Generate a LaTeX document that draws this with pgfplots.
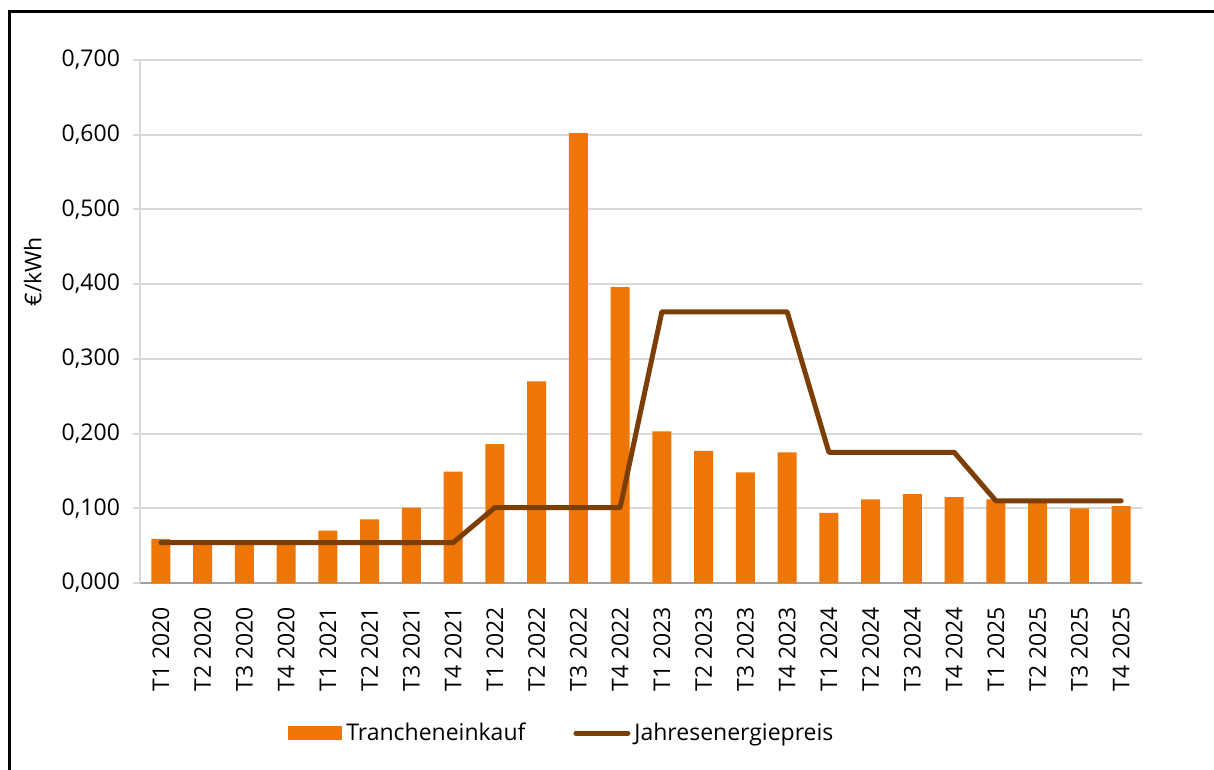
\documentclass[border=0pt]{standalone}
\usepackage{pgfplots}
\pgfplotsset{compat=1.18}
\usepackage{fontspec}
\setmainfont{Open Sans}
\definecolor{barorange}{RGB}{237,118,7}
\definecolor{linebrown}{RGB}{124,62,4}
\definecolor{gridgray}{RGB}{217,217,217}
\definecolor{axisgray}{RGB}{160,160,160}
\begin{document}
\begin{tikzpicture}
\begin{axis}[
  scale only axis,
  width=501pt, height=261.5pt,
  xmin=-0.5, xmax=23.5,
  ymin=0, ymax=0.7,
  ytick={0,0.1,...,0.7},
  xtick={0,...,23},
  xticklabels={T1 2020,T2 2020,T3 2020,T4 2020,T1 2021,T2 2021,T3 2021,T4 2021,T1 2022,T2 2022,T3 2022,T4 2022,T1 2023,T2 2023,T3 2023,T4 2023,T1 2024,T2 2024,T3 2024,T4 2024,T1 2025,T2 2025,T3 2025,T4 2025},
  font=\fontsize{11.5}{13}\selectfont,
  /pgf/number format/assume math mode=true,
  yticklabel style={/pgf/number format/.cd, fixed, fixed zerofill, precision=3, use comma, 1000 sep={}, /tikz/.cd, xshift=-3pt},
  xticklabel style={rotate=90, anchor=east, yshift=0pt, xshift=-5pt},
  axis x line*=bottom,
  axis y line*=left,
  x axis line style={draw=axisgray, line width=1pt, -},
  y axis line style={draw=gridgray, line width=1pt, -},
  ymajorgrids,
  grid style={draw=gridgray, line width=1pt},
  xtick style={draw=none},
  ytick style={draw=gridgray, line width=1pt},
  tick align=outside,
  major tick length=3.5pt,
  ylabel={€/kWh},
  ylabel style={at={(axis description cs:-0.107,0.595)}, anchor=center, font=\fontsize{11.5}{13}\selectfont},
  legend columns=-1,
  legend style={at={(axis description cs:0.422,-0.287)}, anchor=center, draw=none, fill=none,
    font=\fontsize{11.5}{13}\selectfont,
    /tikz/every even column/.append style={column sep=22pt}},
  legend cell align=left,
]
\addplot[ybar, bar width=9.4pt, fill=barorange, draw=none,
  legend image code/.code={\fill[barorange] (0pt,-3.5pt) rectangle (27pt,3.5pt);}]
  coordinates {(0,0.059) (1,0.055) (2,0.055) (3,0.055) (4,0.070) (5,0.085) (6,0.101) (7,0.149)
  (8,0.186) (9,0.270) (10,0.602) (11,0.396) (12,0.203) (13,0.177) (14,0.148) (15,0.175)
  (16,0.094) (17,0.112) (18,0.119) (19,0.115) (20,0.112) (21,0.107) (22,0.100) (23,0.103)};
\addlegendentry{Trancheneinkauf}
\addplot[draw=linebrown, line width=2.5pt, line cap=round, line join=round, mark=none,
  legend image code/.code={\draw[linebrown, line width=2.5pt, line cap=round] (1pt,0pt) -- (27pt,0pt);}]
  coordinates {(0,0.054) (1,0.054) (2,0.054) (3,0.054) (4,0.054) (5,0.054) (6,0.054) (7,0.054)
  (8,0.101) (9,0.101) (10,0.101) (11,0.101) (12,0.363) (13,0.363) (14,0.363) (15,0.363)
  (16,0.175) (17,0.175) (18,0.175) (19,0.175) (20,0.110) (21,0.110) (22,0.110) (23,0.110)};
\addlegendentry{Jahresenergiepreis}
\end{axis}
\draw[black, line width=1.5pt] (-65pt,-120pt) -- (-65pt,285.75pt) -- (560pt,285.75pt);
\pgfresetboundingbox
\path[use as bounding box] (-70pt,-93.5pt) rectangle (537pt,291.5pt);
\end{tikzpicture}
\end{document}
